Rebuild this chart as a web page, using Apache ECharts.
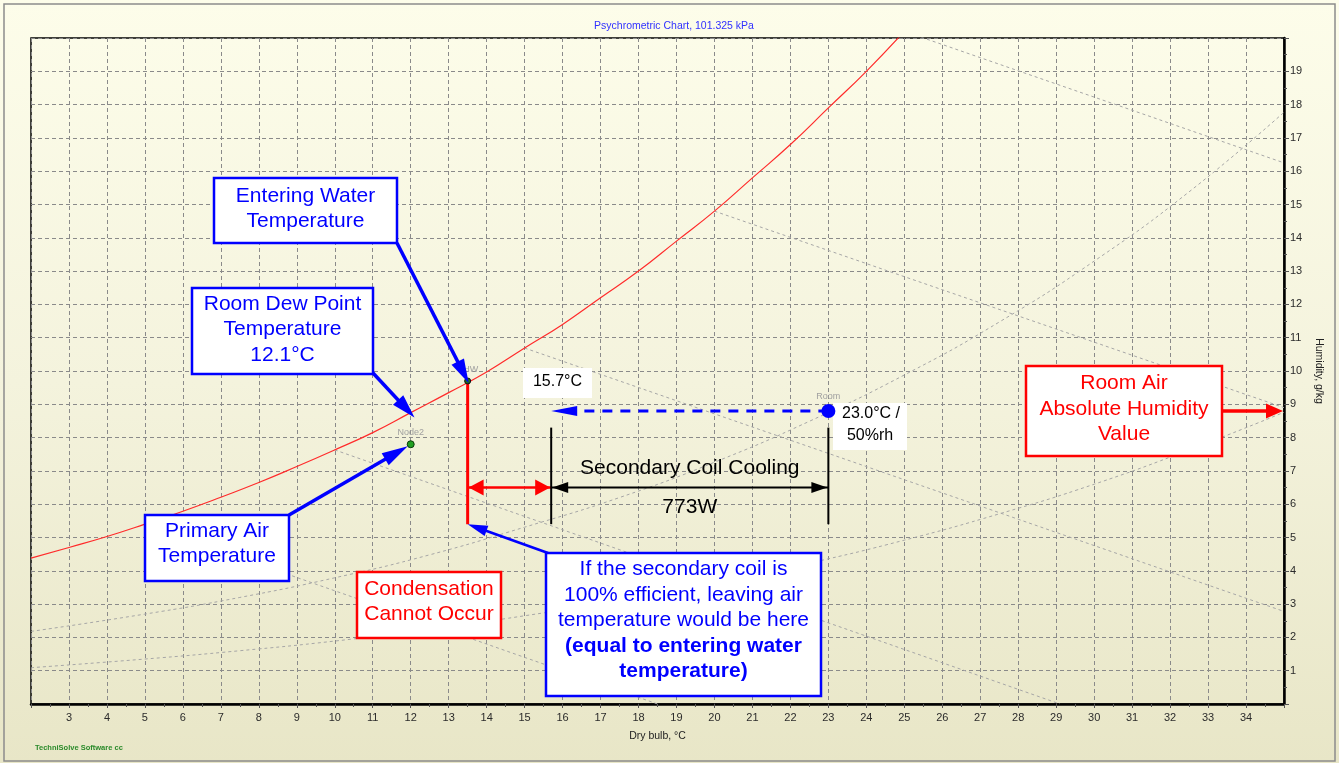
<!DOCTYPE html>
<html>
<head>
<meta charset="utf-8">
<script src="https://cdn.jsdelivr.net/npm/echarts@6/dist/echarts.min.js"></script>
<style>
  html, body { margin: 0; padding: 0; }
  #chart {
    width: 1339px; height: 763px;
    background: linear-gradient(to bottom, #FDFDEA 0%, #F4F3DD 50%, #E8E6C7 100%);
  }
</style>
</head>
<body>
<div id="chart"></div>
<script>
// ---- axis ranges (dry bulb °C, humidity ratio g/kg) ----
const xRange = [2, 35];
const yRange = [0, 20];

// ---- saturation curve (100 %rh) ----
const satTemps = [2, 3, 4, 5, 6, 7, 8, 9, 10, 11, 12, 13, 14, 15, 16, 17, 18, 19, 20, 21, 22, 23, 24, 25];
const satHumidity = [4.38, 4.70, 5.03, 5.40, 5.79, 6.21, 6.65, 7.13, 7.63, 8.15, 8.75, 9.35, 9.97, 10.69,
                     11.40, 12.20, 13.00, 13.90, 14.80, 15.80, 16.80, 17.90, 19.00, 20.20];

// ---- relative humidity guide curves ----
const rhTemps = [2, 5, 7.5, 10, 12.5, 15, 17.5, 20, 22.5, 25, 27.5, 30, 32.5, 35];
const rh50 = [2.18, 2.70, 3.20, 3.79, 4.48, 5.31, 6.20, 7.26, 8.49, 9.88, 11.47, 13.30, 15.38, 17.77];
const rh25 = [1.09, 1.35, 1.60, 1.89, 2.24, 2.65, 3.10, 3.62, 4.23, 4.92, 5.71, 6.60, 7.63, 8.76];

// ---- constant wet-bulb guide lines (start on saturation, end at chart edge) ----
const wetBulb5  = [[5, 5.40], [18.5, 0]];
const wetBulb10 = [[10, 7.63], [29.1, 0]];
const wetBulb15 = [[15, 10.69], [35, 2.78]];
const wetBulb20 = [[20, 14.80], [35, 8.90]];
const wetBulb25 = [[25, 20.20], [35, 16.25]];

// ---- state points ----
const pointNames = ['SHW', 'Node2', 'Room'];
const pointTemps = [13.5, 12.0, 23.0];
const pointHumidity = [9.7, 7.8, 8.8];

// ---- secondary coil process ----
const enteringWaterTemp = 13.5;
const leavingAirTemp = 15.7;
const roomTemp = 23.0;
const roomHumidity = 8.8;
const roomRH = 50;
const roomDewPoint = 12.1;
const coilLowLimit = 5.4;     // bottom of the entering-water marker line
const bracketTop = 8.3;       // top of the cooling dimension brackets
const dimensionLevel = 6.5;   // humidity level of the dimension arrows
const coilLoad = '773W';

const FONT = "'Liberation Sans', Arial, sans-serif";
const BLUE = '#0000ff';
const RED = '#ff0000';

const chart = echarts.init(document.getElementById('chart'));

function pairs(xs, ys) { return xs.map((x, i) => [x, ys[i]]); }

function guide(data, smooth) {
  return {
    type: 'line', data, symbol: 'none', smooth: smooth, silent: true, z: 2,
    lineStyle: { color: '#a6a6a6', width: 1, type: [3, 3] }
  };
}
function segment(data, color, width, type, z) {
  return {
    type: 'line', data, symbol: 'none', silent: true, z: z || 5,
    lineStyle: { color, width, type: type || 'solid', cap: 'butt' }
  };
}

const pointStyles = [
  { symbolSize: 6, itemStyle: { color: '#1d6e1d', borderColor: '#111', borderWidth: 1, opacity: 1 } },
  { symbolSize: 7, itemStyle: { color: '#22a022', borderColor: '#0b3b0b', borderWidth: 1, opacity: 1 } },
  { symbolSize: 14, itemStyle: { color: BLUE, opacity: 1 } }
];

chart.setOption({
  animation: false,
  grid: { left: 31, right: 55, top: 38, bottom: 59, show: true, borderColor: '#000', borderWidth: 1.5 },
  xAxis: {
    type: 'value', min: xRange[0], max: xRange[1], interval: 1,
    name: 'Dry bulb, °C', nameLocation: 'middle', nameGap: 27,
    nameTextStyle: { fontFamily: FONT, fontSize: 10.5, color: '#222' },
    axisLine: { show: true, onZero: false, lineStyle: { color: '#000', width: 2.5 } },
    axisTick: { show: true, length: 4, lineStyle: { color: '#555' } },
    minorTick: { show: true, splitNumber: 2, length: 3, lineStyle: { color: '#555' } },
    axisLabel: { showMinLabel: false, showMaxLabel: false, margin: 8,
                 fontFamily: FONT, fontSize: 11, color: '#2b2b2b' },
    splitLine: { show: true, lineStyle: { color: '#8a8a8a', width: 1, type: [4, 3] } }
  },
  yAxis: {
    type: 'value', position: 'right', min: yRange[0], max: yRange[1], interval: 1,
    name: 'Humidity, g/kg', nameLocation: 'middle', nameGap: 22, nameRotate: -90,
    nameTextStyle: { fontFamily: FONT, fontSize: 10.5, color: '#222' },
    axisLine: { show: true, onZero: false, lineStyle: { color: '#000', width: 2.5 } },
    axisTick: { show: true, length: 5, lineStyle: { color: '#555' } },
    minorTick: { show: true, splitNumber: 2, length: 3, lineStyle: { color: '#555' } },
    axisLabel: { showMinLabel: false, showMaxLabel: false, margin: 6,
                 fontFamily: FONT, fontSize: 11, color: '#2b2b2b' },
    splitLine: { show: true, lineStyle: { color: '#8a8a8a', width: 1, type: [4, 3] } }
  },
  series: [
    guide(pairs(rhTemps, rh50), true),
    guide(pairs(rhTemps, rh25), true),
    guide(wetBulb5, false),
    guide(wetBulb10, false),
    guide(wetBulb15, false),
    guide(wetBulb20, false),
    guide(wetBulb25, false),
    {
      type: 'line', data: pairs(satTemps, satHumidity), symbol: 'none', smooth: true, silent: true, z: 3,
      lineStyle: { color: '#ff2b2b', width: 1.2 }
    },
    // entering water temperature marker line
    segment([[enteringWaterTemp, pointHumidity[0]], [enteringWaterTemp, coilLowLimit]], RED, 3),
    // coil approach dimension
    segment([[enteringWaterTemp, dimensionLevel], [leavingAirTemp, dimensionLevel]], RED, 2.5),
    // secondary coil cooling brackets and dimension
    segment([[leavingAirTemp, bracketTop], [leavingAirTemp, coilLowLimit]], '#000', 2),
    segment([[roomTemp, bracketTop], [roomTemp, coilLowLimit]], '#000', 2),
    segment([[leavingAirTemp, dimensionLevel], [roomTemp, dimensionLevel]], '#000', 2),
    // room air cooled along constant humidity
    segment([[roomTemp, roomHumidity], [leavingAirTemp + 0.6, roomHumidity]], BLUE, 3, [10, 8]),
    {
      type: 'scatter', z: 8, silent: true,
      data: pointNames.map((n, i) => Object.assign({ name: n, value: [pointTemps[i], pointHumidity[i]] }, pointStyles[i])),
      label: {
        show: true, position: 'top', distance: 3, formatter: '{b}',
        fontFamily: FONT, fontSize: 9, color: '#a0a0a0'
      }
    }
  ]
});

// ---- annotations ----
const px = (x, y) => chart.convertToPixel({ gridIndex: 0 }, [x, y]);
const g = [];

function arrowHead(from, tip, len, half, color) {
  const dx = tip[0] - from[0], dy = tip[1] - from[1];
  const d = Math.hypot(dx, dy);
  const ux = dx / d, uy = dy / d;
  const bx = tip[0] - ux * len, by = tip[1] - uy * len;
  g.push({
    type: 'polygon', z: 60, silent: true,
    shape: { points: [tip, [bx - uy * half, by + ux * half], [bx + uy * half, by - ux * half]] },
    style: { fill: color }
  });
  return [bx + ux * 2, by + uy * 2];
}
function arrow(from, tip, width, len, half, color) {
  const base = arrowHead(from, tip, len, half, color);
  g.push({
    type: 'line', z: 59, silent: true,
    shape: { x1: from[0], y1: from[1], x2: base[0], y2: base[1] },
    style: { stroke: color, lineWidth: width }
  });
}
function text(str, x, y, opts, z) {
  g.push({
    type: 'text', z: z || 70, silent: true,
    style: Object.assign({
      text: str, x, y, fill: '#000', font: '21px ' + FONT,
      textAlign: 'center', textVerticalAlign: 'middle', verticalAlign: 'middle'
    }, opts || {})
  });
}
function box(x0, y0, x1, y1, stroke, lines, color, bold, z) {
  g.push({
    type: 'rect', z: z || 65, silent: true,
    shape: { x: x0, y: y0, width: x1 - x0, height: y1 - y0 },
    style: stroke ? { fill: '#fff', stroke, lineWidth: 2.5 } : { fill: '#fff' }
  });
  lines.forEach(l => text(l[0], (x0 + x1) / 2 + (l[2] || 0), l[1], {
    fill: color, font: (bold && bold.includes(l[0]) ? 'bold ' : '') + (l[3] || '21px ') + FONT
  }, z ? z + 0.5 : 70));
}

// frame and page texts
g.push({ type: 'rect', z: 1, silent: true, shape: { x: 4, y: 4, width: 1331, height: 757 },
         style: { fill: 'none', stroke: '#8c8c8c', lineWidth: 1.5 } });
text('Psychrometric Chart, 101.325 kPa', 674, 26, { fill: '#3030ff', font: '10.5px ' + FONT });
text('TechniSolve Software cc', 35, 748, { fill: '#2a8a2a', font: 'bold 7.5px ' + FONT, textAlign: 'left' });

// dimension arrowheads
const pShw = px(pointTemps[0], pointHumidity[0]);
const pNode = px(pointTemps[1], pointHumidity[1]);
const pRoom = px(roomTemp, roomHumidity);
const pEntDim = px(enteringWaterTemp, dimensionLevel);
const pLeaveDim = px(leavingAirTemp, dimensionLevel);
const pRoomDim = px(roomTemp, dimensionLevel);
arrowHead(pLeaveDim, [pEntDim[0] + 1, pEntDim[1]], 15, 8, RED);
arrowHead(pEntDim, [pLeaveDim[0] - 1, pLeaveDim[1]], 15, 8, RED);
arrowHead(pRoomDim, [pLeaveDim[0] + 1, pLeaveDim[1]], 16, 5.5, '#000');
arrowHead(pLeaveDim, [pRoomDim[0] - 1, pRoomDim[1]], 16, 5.5, '#000');
const pLeaveArrow = px(leavingAirTemp, roomHumidity);
arrowHead(pRoom, pLeaveArrow, 26, 5, BLUE);

const mid = (pLeaveDim[0] + pRoomDim[0]) / 2;
text('Secondary Coil Cooling', mid, pLeaveDim[1] - 19);
text(coilLoad, mid, pLeaveDim[1] + 20);

// callout arrows
arrow([397, 243], [pShw[0] + 1, pShw[1] + 2], 3.5, 24, 7, BLUE);
arrow([373, 373], px(roomDewPoint, 8.6), 3.5, 24, 7, BLUE);
arrow([289, 515], [pNode[0] - 3, pNode[1] + 2], 3.5, 26, 7, BLUE);
arrow([548, 553], px(enteringWaterTemp, coilLowLimit), 2.5, 20, 5.5, BLUE);
const pAxisRoom = px(xRange[1], roomHumidity);
arrow([1222, pAxisRoom[1]], [pAxisRoom[0] - 1, pAxisRoom[1]], 3.5, 17, 7.5, RED);

// value labels (kept beneath the state point markers)
box(523, 368, 592, 398, null, [[leavingAirTemp.toFixed(1) + '°C', 382, 0, '16px ']], '#000', null, 6);
box(833, 403, 907, 450, null, [[roomTemp.toFixed(1) + '°C /', 414, 1, '16px '], [roomRH + '%rh', 436, 0, '16px ']], '#000', null, 6);

// callout boxes
box(214, 178, 397, 243, BLUE, [['Entering Water', 196], ['Temperature', 221]], BLUE);
box(192, 288, 373, 374, BLUE, [['Room Dew Point', 304], ['Temperature', 329], [roomDewPoint.toFixed(1) + '°C', 355]], BLUE);
box(145, 515, 289, 581, BLUE, [['Primary Air', 531], ['Temperature', 556]], BLUE);
box(357, 572, 501, 638, RED, [['Condensation', 589], ['Cannot Occur', 614]], RED);
box(546, 553, 821, 696, BLUE, [
  ['If the secondary coil is', 569], ['100% efficient, leaving air', 595],
  ['temperature would be here', 620], ['(equal to entering water', 646], ['temperature)', 671]
], BLUE, ['(equal to entering water', 'temperature)']);
box(1026, 366, 1222, 456, RED, [['Room Air', 383], ['Absolute Humidity', 409], ['Value', 434]], RED);

chart.setOption({ graphic: { elements: g } });
</script>
</body>
</html>
